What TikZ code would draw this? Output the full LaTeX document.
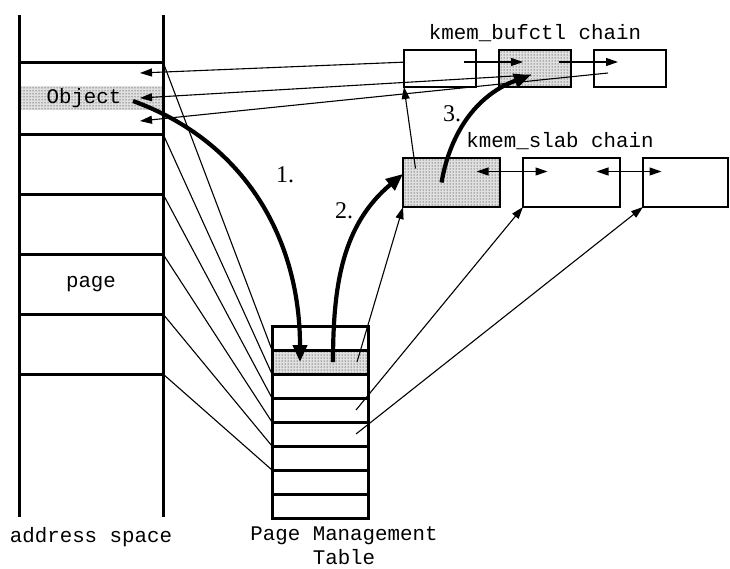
\documentclass[tikz,border=0pt]{standalone}
\usepackage{fontspec}
\setmainfont{Liberation Serif}
\setmonofont{Liberation Mono}
\usetikzlibrary{arrows.meta,positioning,patterns}
\tikzset{
  addrline/.style = {
    line width=3pt
  },
  shadefill/.style = {
    preaction={fill=black!12},
    pattern=dots,
    pattern color=black
  },
  tabrow/.style = {
    rectangle,
    draw,
    line width=3pt,
    minimum width=96pt,
    minimum height=24pt,
    inner sep=0pt,
    outer sep=0pt
  },
  objslot/.style = {
    rectangle,
    shadefill,
    minimum width=144pt,
    minimum height=24pt,
    inner sep=0pt
  },
  chainbox/.style = {
    rectangle,
    draw,
    line width=1.4pt,
    minimum width=72pt,
    minimum height=37pt,
    inner sep=0pt,
    outer sep=0pt
  },
  slabbox/.style = {
    chainbox,
    minimum width=97pt,
    minimum height=49pt
  },
  monotext/.style = {
    font=\ttfamily\fontsize{20.8pt}{24pt}\selectfont,
    inner sep=0pt,
    align=center
  },
  steptext/.style = {
    font=\fontsize{24pt}{28pt}\selectfont,
    inner sep=0pt
  },
  pageline/.style = {
    line width=1.1pt
  },
  linkarrow/.style = {
    -{Triangle[length=12pt,width=8pt]},
    line width=1.1pt
  },
  dlinkarrow/.style = {
    {Triangle[length=12pt,width=8pt]}-{Triangle[length=12pt,width=8pt]},
    line width=1.1pt
  },
  stepcurve/.style = {
    -{Triangle[length=17pt,width=14pt]},
    line width=4.2pt
  }
}
\begin{document}
\begin{tikzpicture}[x=1pt,y=-1pt]
    \useasboundingbox (0,0) rectangle (730,568);
    \node[objslot, monotext] (object) at (91,98) {Object\hspace*{14pt}};
    \foreach \y [count=\i from 0] in {62,134,194,254,314,374}
      \coordinate (pg\i) at (163,\y);
    \draw[addrline] (19,15) -- (19,517);
    \draw[addrline] (163,15) -- (163,517);
    \foreach \i in {0,...,5}
      \draw[addrline] (pg\i) -- ++(-144,0);
    \node[monotext] (page) at (91,284) {page};
    \node[monotext] (addrlabel) at (91,537) {address space};
    \foreach \i in {0,2,3,4,5,6,7}
      \node[tabrow] (row\i) at (320,338+24*\i) {};
    \node[tabrow, shadefill] (row1) at (320,362) {};
    \node[monotext] (tablabel) at (344,546) {Page Management\\Table};
    \foreach \i [evaluate=\i as \j using int(\i+1)] in {0,...,5}
      \draw[pageline] (pg\i) -- (row\j.north west);
    \node[chainbox] (buf1) at (440,68.5) {};
    \node[chainbox, shadefill, right=23pt of buf1] (buf2) {};
    \node[chainbox, right=23pt of buf2] (buf3) {};
    \node[monotext] (buflabel) at (535,33) {kmem\_bufctl chain};
    \node[slabbox, shadefill] (slab1) at (451.5,182.5) {};
    \node[slabbox, right=23pt of slab1] (slab2) {};
    \node[slabbox, minimum width=85pt, right=23pt of slab2] (slab3) {};
    \node[monotext] (slablabel) at (560,141) {kmem\_slab chain};
    \coordinate (obj1) at (140,73);
    \coordinate (obj2) at (140,98);
    \coordinate (obj3) at (140,121);
    \coordinate (objtail) at (133,101);
    \coordinate (buf2slot) at (531,75);
    \coordinate (buf3slot) at (608,73);
    \draw[linkarrow] ([shift={(24,-6.5)}]buf1.center) -- ([shift={(-12,-6.5)}]buf2.center);
    \draw[linkarrow] ([shift={(24,-6.5)}]buf2.center) -- ([shift={(-12,-6.5)}]buf3.center);
    \draw[linkarrow] (buf1.170) -- (obj1);
    \draw[linkarrow] (buf2slot) -- (obj2);
    \draw[linkarrow] (buf3slot) -- (obj3);
    \draw[dlinkarrow] ([shift={(25,-11)}]slab1.center) -- ([shift={(-24,-11)}]slab2.center);
    \draw[dlinkarrow] ([shift={(25,-11)}]slab2.center) -- ([shift={(-24,-11)}]slab3.center);
    \draw[linkarrow] ([shift={(-36,-14)}]slab1.center) -- (buf1.south west);
    \draw[linkarrow] ([xshift=37pt]row1.center) -- (slab1.south west);
    \draw[linkarrow] ([xshift=36pt]row3.center) -- (slab2.south west);
    \draw[linkarrow] ([xshift=36pt]row4.center) -- (slab3.south west);
    \draw[stepcurve] (objtail) to[out=-20,in=90] ([xshift=-20pt]row1.center);
    \node[steptext] (one) at (285,175) {1.};
    \draw[stepcurve] ([xshift=13pt]row1.center) to[out=90,in=220] (slab1.170);
    \node[steptext] (two) at (344,211) {2.};
    \draw[stepcurve] ([xshift=-10pt]slab1.center) to[out=80,in=200] (buf2slot);
    \node[steptext] (three) at (452,114) {3.};
\end{tikzpicture}
\end{document}
